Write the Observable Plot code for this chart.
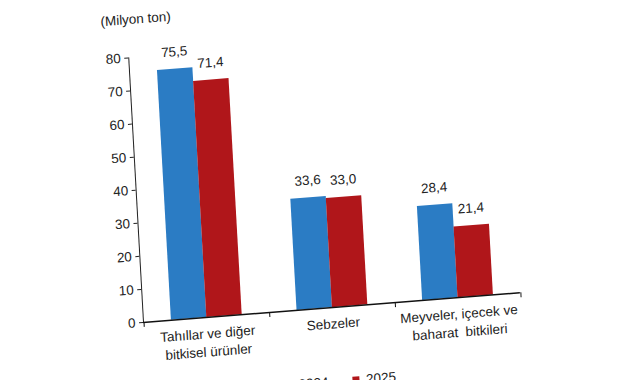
<!DOCTYPE html>
<html>
<head>
<meta charset="utf-8">
<script src="https://cdn.jsdelivr.net/npm/d3@7"></script>
<script src="https://cdn.jsdelivr.net/npm/@observablehq/plot@0.6"></script>
<style>
  html, body { margin: 0; padding: 0; background: #fff; overflow: hidden; width: 641px; height: 380px; }
  #wrap { position: absolute; left: 0; top: 0; width: 641px; height: 420px;
          transform-origin: 143px 322px;
          transform: matrix(0.9969, -0.0785, 0.0558, 0.9984, 0, 0); }
  #legend { position: absolute; left: 281px; top: 380px; }
  #legend .lg-swatches { font-family: "Liberation Sans", Arial, sans-serif !important; font-size: 13.5px !important; color: #222 !important; }
  #legend .lg-swatch { margin-right: 24px !important; }
</style>
</head>
<body>
<div id="wrap"><div id="chart"></div><div id="legend"></div></div>
<script>
const categories = ["Tahıllar ve diğer\nbitkisel ürünler", "Sebzeler", "Meyveler, içecek ve\nbaharat  bitkileri"];
const years = ["2024", "2025"];
const values2024 = [75.5, 33.6, 28.4];
const values2025 = [71.4, 33.0, 21.4];
const yTicks = [0, 10, 20, 30, 40, 50, 60, 70, 80];
const unitLabel = "(Milyon ton)";
const colors = ["#2b7cc4", "#b0161a"];

const rows = [];
categories.forEach((c, i) => {
  rows.push({category: c, year: years[0], value: values2024[i]});
  rows.push({category: c, year: years[1], value: values2025[i]});
});
const rows2024 = rows.filter(d => d.year === years[0]);
const rows2025 = rows.filter(d => d.year === years[1]);
const fmt = v => v.toFixed(1).replace(".", ",");

const W = 641, H = 380, mL = 143, mR = 120, mT = 57, mB = 58;
const padIn = 0.437;
const step = (W - mL - mR) / categories.length;
const half = step * (1 - padIn) / 2;

const chart = Plot.plot({
  width: W, height: H,
  marginLeft: mL, marginRight: mR, marginTop: mT, marginBottom: mB,
  style: {fontFamily: "'Liberation Sans', Arial, sans-serif", fontSize: "13.5px", color: "#222", background: "transparent", overflow: "visible"},
  x: {domain: categories, paddingInner: padIn, paddingOuter: padIn / 2, axis: null},
  y: {domain: [0, 80], ticks: yTicks, tickSize: 4, tickPadding: 4, line: true, label: null},
  color: {domain: years, range: colors},
  marks: [
    Plot.barY(rows2024, {x: "category", y: "value", fill: "year", insetRight: half}),
    Plot.barY(rows2025, {x: "category", y: "value", fill: "year", insetLeft: half}),
    Plot.ruleY([0], {stroke: "#111", strokeWidth: 1.5}),
    Plot.ruleX(categories, {x: d => d, y1: 0, y2: -1.5, dx: -step / 2, stroke: "#111"}),
    Plot.ruleX(categories.slice(-1), {x: d => d, y1: 0, y2: -1.5, dx: step / 2, stroke: "#111"}),
    Plot.text(rows2024, {x: "category", y: "value", text: d => fmt(d.value), dx: -half / 2, dy: -13, lineAnchor: "bottom"}),
    Plot.text(rows2025, {x: "category", y: "value", text: d => fmt(d.value), dx: half / 2, dy: -13, lineAnchor: "bottom"}),
    Plot.text(categories, {x: d => d, text: d => d, frameAnchor: "bottom", dy: 8, lineAnchor: "top", lineHeight: 1.35}),
    Plot.text([unitLabel], {text: d => d, frameAnchor: "top-left", dx: 9, dy: -38, textAnchor: "middle", lineAnchor: "middle"})
  ]
});
document.getElementById("chart").appendChild(chart);

const legend = Plot.legend({
  color: {domain: years, range: colors},
  swatchSize: 7,
  className: "lg"
});
document.getElementById("legend").appendChild(legend);
</script>
</body>
</html>
